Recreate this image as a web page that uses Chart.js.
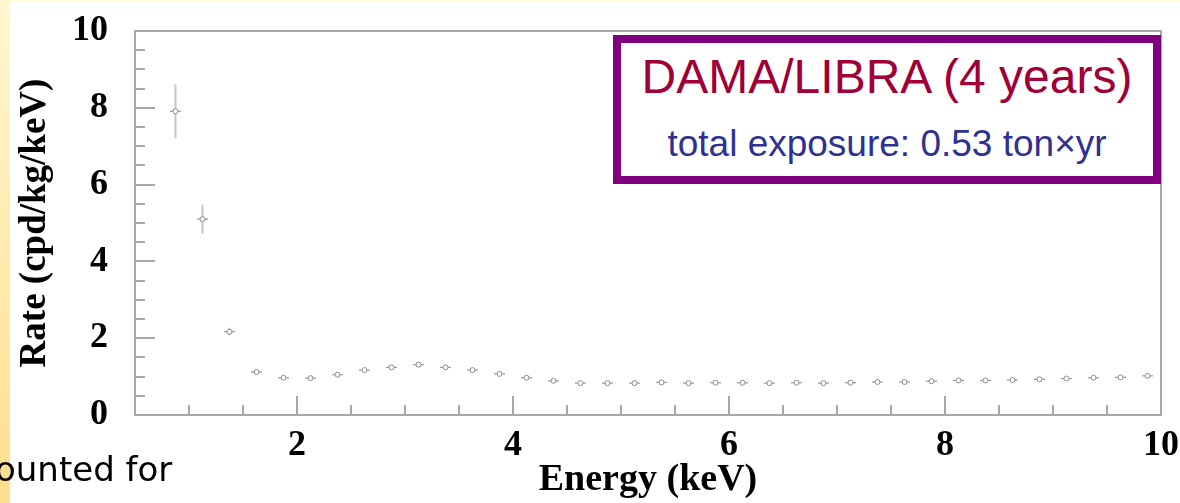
<!DOCTYPE html>
<html>
<head>
<meta charset="utf-8">
<script src="https://cdn.jsdelivr.net/npm/chart.js@4.4.1/dist/chart.umd.min.js"></script>
<style>
  html, body { margin: 0; padding: 0; }
  body { width: 1180px; height: 503px; position: relative; overflow: hidden; background: #fff; }
  .top-band { position: absolute; left: 0; top: 0; width: 1180px; height: 2px; background: #fffbd6; }
  .left-strip { position: absolute; left: 0; top: 0; width: 10px; height: 503px; background: linear-gradient(#fff7d0, #ffdf8e); }
  #chart { position: absolute; left: 0; top: 0; }
  .note { position: absolute; left: -5px; top: 452px; font-family: "DejaVu Sans", sans-serif; font-size: 34px; line-height: 34px; color: #000; white-space: nowrap; }
  .legend-box { position: absolute; left: 613px; top: 35px; width: 532px; height: 133px; border: 8px solid #800080; background: #fff; font-family: "Liberation Sans", Arial, sans-serif; }
  .legend-box .title { position: absolute; left: 0; width: 100%; top: 10px; text-align: center; font-size: 48px; line-height: 48px; color: #a00036; white-space: nowrap; }
  .legend-box .sub { position: absolute; left: 0; width: 100%; top: 82px; text-align: center; font-size: 37px; line-height: 37px; color: #2e3192; white-space: nowrap; }
</style>
</head>
<body>
<div class="top-band"></div>
<div class="left-strip"></div>
<canvas id="chart" width="1180" height="503"></canvas>
<div class="legend-box">
  <div class="title">DAMA/LIBRA (4 years)</div>
  <div class="sub">total exposure: 0.53 ton×yr</div>
</div>
<div class="note">ounted for</div>
<script>
// bin centres (keV), measured rate (cpd/kg/keV) and its error
const energy = [0.875, 1.125, 1.375, 1.625, 1.875, 2.125, 2.375, 2.625, 2.875, 3.125,
                3.375, 3.625, 3.875, 4.125, 4.375, 4.625, 4.875, 5.125, 5.375, 5.625,
                5.875, 6.125, 6.375, 6.625, 6.875, 7.125, 7.375, 7.625, 7.875, 8.125,
                8.375, 8.625, 8.875, 9.125, 9.375, 9.625, 9.875];
const rate = [7.91, 5.10, 2.17, 1.12, 0.97, 0.96, 1.05, 1.17, 1.24, 1.31,
              1.24, 1.17, 1.07, 0.97, 0.89, 0.83, 0.83, 0.83, 0.85, 0.83,
              0.84, 0.84, 0.83, 0.84, 0.83, 0.84, 0.86, 0.86, 0.88, 0.90,
              0.90, 0.91, 0.93, 0.95, 0.97, 0.98, 1.02];
const rateErr = [0.70, 0.38, 0.10, 0.04, 0.04, 0.04, 0.04, 0.04, 0.04, 0.04,
                 0.04, 0.04, 0.04, 0.04, 0.04, 0.04, 0.04, 0.04, 0.04, 0.04,
                 0.04, 0.04, 0.04, 0.04, 0.04, 0.04, 0.04, 0.04, 0.04, 0.04,
                 0.04, 0.04, 0.04, 0.04, 0.04, 0.04, 0.04];
const xTickLabels = [2, 4, 6, 8, 10];
const yTickLabels = [0, 2, 4, 6, 8, 10];

const axisColor = '#a8a8a8';

// frame round the plot and inward ticks, ROOT style
const frameAndTicks = {
    id: 'frameAndTicks',
    afterDraw(chart) {
        const { ctx, chartArea: a, scales: { x, y } } = chart;
        ctx.save();
        ctx.strokeStyle = axisColor;
        ctx.lineWidth = 2;
        ctx.strokeRect(a.left, a.top, a.right - a.left, a.bottom - a.top);
        for (let v = x.min + 0.5; v < x.max; v += 0.5) {
            const px = Math.round(x.getPixelForValue(v));
            const len = (Math.abs(v % 2) < 1e-6) ? 19 : 10;
            ctx.beginPath();
            ctx.moveTo(px, a.bottom);
            ctx.lineTo(px, a.bottom - len);
            ctx.stroke();
        }
        for (let v = y.min + 0.5; v < y.max; v += 0.5) {
            const py = Math.round(y.getPixelForValue(v));
            const len = (Math.abs(v % 2) < 1e-6) ? 20 : 10;
            ctx.beginPath();
            ctx.moveTo(a.left, py);
            ctx.lineTo(a.left + len, py);
            ctx.stroke();
        }
        ctx.restore();
    }
};

const errorBars = {
    id: 'errorBars',
    beforeDatasetsDraw(chart) {
        const { ctx, scales: { x, y } } = chart;
        ctx.save();
        energy.forEach((e, i) => {
            const px = x.getPixelForValue(e);
            const py = y.getPixelForValue(rate[i]);
            ctx.strokeStyle = '#c4c4c4';
            ctx.lineWidth = 2;
            ctx.beginPath();
            ctx.moveTo(px, y.getPixelForValue(rate[i] + rateErr[i]));
            ctx.lineTo(px, y.getPixelForValue(rate[i] - rateErr[i]));
            ctx.stroke();
            ctx.strokeStyle = '#9a9a9a';
            ctx.lineWidth = 1.2;
            ctx.beginPath();
            ctx.moveTo(px - 5.5, py);
            ctx.lineTo(px + 5.5, py);
            ctx.stroke();
        });
        ctx.restore();
    }
};

const serifBold = (size) => ({ family: "'Liberation Serif', 'Times New Roman', serif", size: size, weight: 'bold' });

new Chart(document.getElementById('chart'), {
    type: 'scatter',
    data: {
        datasets: [{
            data: energy.map((e, i) => ({ x: e, y: rate[i] })),
            pointStyle: 'circle',
            pointRadius: 2.5,
            pointBorderWidth: 1,
            pointBorderColor: '#8a8a8a',
            pointBackgroundColor: '#ffffff'
        }]
    },
    options: {
        responsive: false,
        animation: false,
        layout: { padding: { left: 0, top: 31, right: 19, bottom: 0 } },
        plugins: { legend: { display: false }, tooltip: { enabled: false } },
        scales: {
            x: {
                type: 'linear',
                min: 0.5,
                max: 10,
                grid: { display: false, drawTicks: false },
                border: { display: false },
                afterBuildTicks: s => { s.ticks = xTickLabels.map(v => ({ value: v })); },
                afterFit: s => { s.height = 88; s.paddingLeft = 0; s.paddingRight = 0; },
                ticks: { color: '#000', font: serifBold(36), padding: 9, maxRotation: 0, autoSkip: false },
                title: { display: true, text: 'Energy (keV)', color: '#000', font: serifBold(38), padding: { top: 0, bottom: 0 } }
            },
            y: {
                type: 'linear',
                min: 0,
                max: 10,
                grid: { display: false, drawTicks: false },
                border: { display: false },
                afterBuildTicks: s => { s.ticks = yTickLabels.map(v => ({ value: v })); },
                afterFit: s => { s.width = 135; s.paddingTop = 0; s.paddingBottom = 0; },
                ticks: { color: '#000', font: serifBold(36), padding: 27, autoSkip: false },
                title: { display: true, text: 'Rate (cpd/kg/keV)', color: '#000', font: serifBold(37), padding: { top: 13, bottom: 0 } }
            }
        }
    },
    plugins: [errorBars, frameAndTicks]
});
</script>
</body>
</html>
